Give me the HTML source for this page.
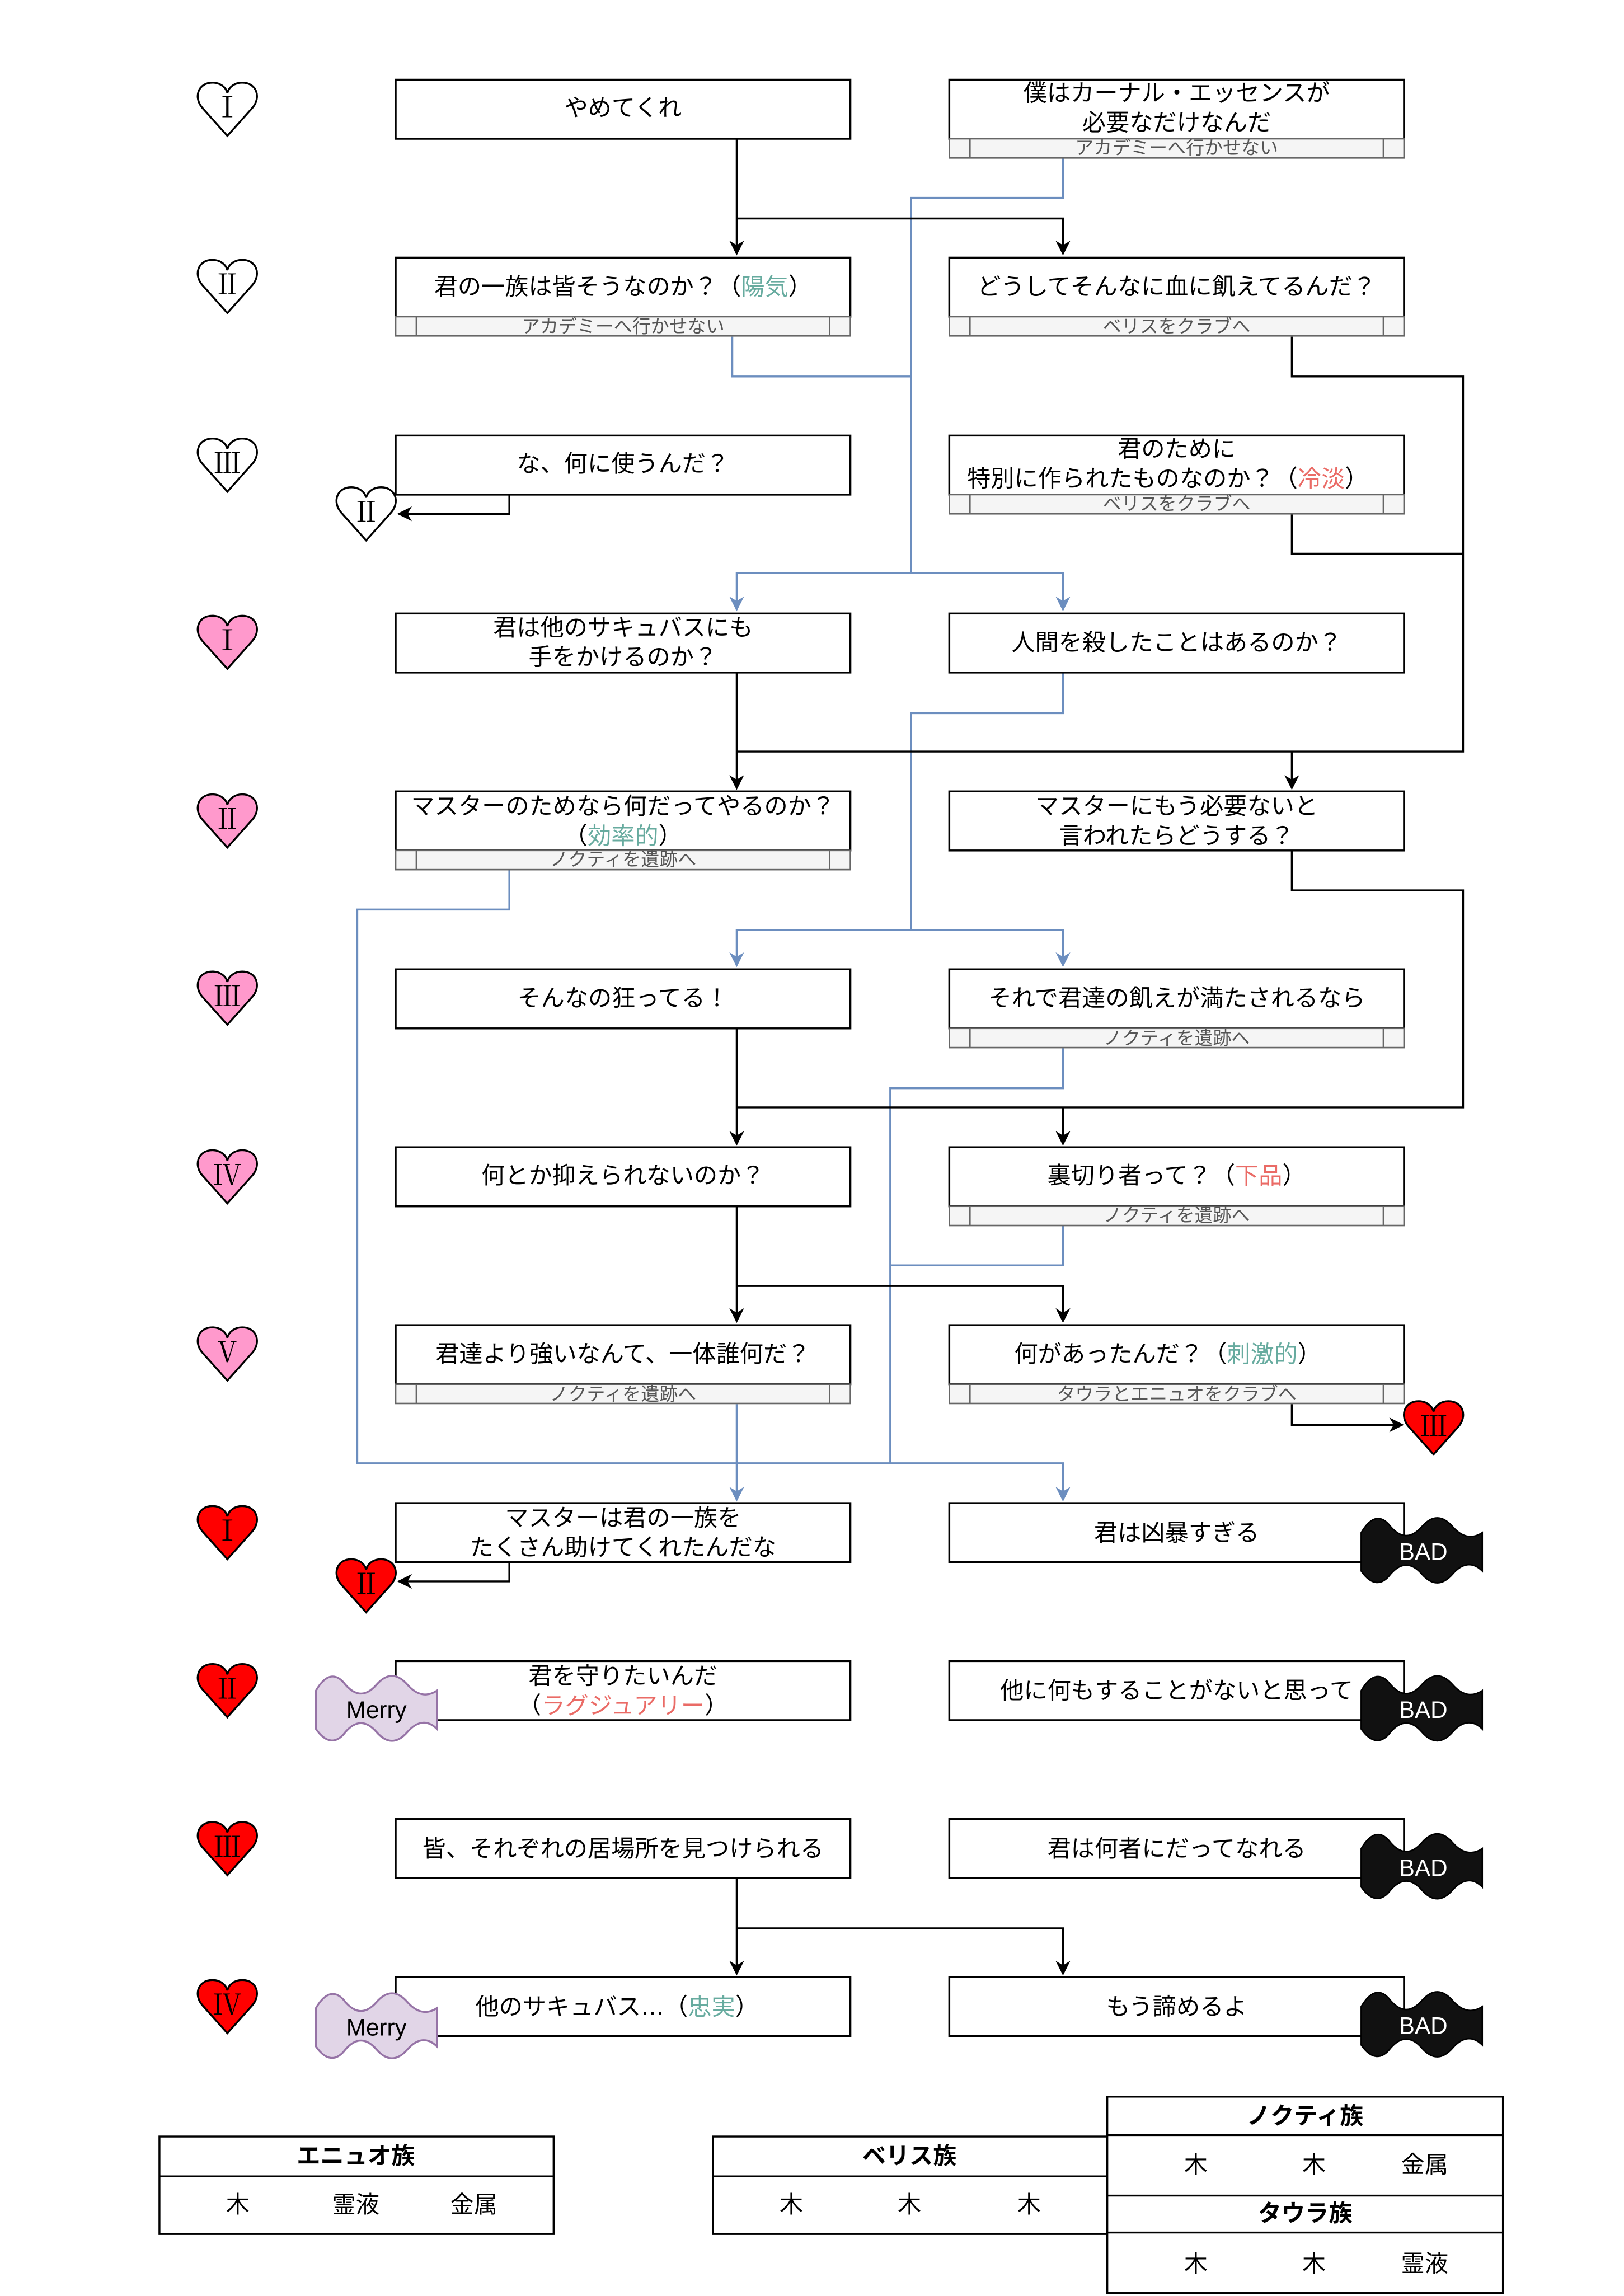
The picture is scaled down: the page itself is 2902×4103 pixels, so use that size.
<!DOCTYPE html>
<html><head><meta charset="utf-8"><style>
html,body{margin:0;padding:0;background:#fff}
svg{display:block}
text{font-family:"Liberation Sans","Noto Sans CJK JP",sans-serif;font-size:16px;fill:#000;text-anchor:middle;dominant-baseline:central}
.bt{font-size:12.5px;fill:#555}
.rn{font-family:"Liberation Serif","Noto Serif CJK SC",serif;font-size:19px}
.g{fill:#67AB9F}.r{fill:#EA6B66}
.bx{fill:#fff;stroke:#000;stroke-width:1.3}
.bar{fill:#f5f5f5;stroke:#666;stroke-width:1}
.k{fill:none;stroke:#000;stroke-width:1.3}
.b{fill:none;stroke:#6C8EBF;stroke-width:1.3}
.hd{font-weight:bold}
</style></head><body>
<svg width="2902" height="4103" viewBox="0 0 1100 1555" preserveAspectRatio="none" xmlns="http://www.w3.org/2000/svg">
<defs>
<marker id="ak" markerWidth="10" markerHeight="10" refX="9" refY="5" orient="auto" markerUnits="userSpaceOnUse"><path d="M0,0 L10,5 L0,10 L3,5 Z" fill="#000"/></marker>
<marker id="ab" markerWidth="10" markerHeight="10" refX="9" refY="5" orient="auto" markerUnits="userSpaceOnUse"><path d="M0,0 L10,5 L0,10 L3,5 Z" fill="#6C8EBF"/></marker>
<path id="h" d="M0,18 L-17,-1 C-23,-8 -20,-18 -10,-18 C-5,-18 -1,-15 0,-11 C1,-15 5,-18 10,-18 C20,-18 23,-8 17,-1 Z"/>
<path id="w" d="M0,8 C7,-4 14,-4 20,4 C27,12 34,12 41,4 C48,-4 55,-4 62,4 C69,12 76,12 82,8 L82,34 C76,28 69,28 62,36 C55,44 48,44 41,36 C34,28 27,28 20,36 C14,44 7,44 0,34 Z"/>
</defs>

<g stroke="#000" stroke-width="1.3">
<use href="#h" x="154" y="74" fill="#fff"/><use href="#h" x="154" y="194" fill="#fff"/><use href="#h" x="154" y="315" fill="#fff"/>
<use href="#h" x="248" y="348" fill="#fff"/>
<use href="#h" x="154" y="435" fill="#FF99CC"/><use href="#h" x="154" y="556" fill="#FF99CC"/><use href="#h" x="154" y="676" fill="#FF99CC"/><use href="#h" x="154" y="797" fill="#FF99CC"/><use href="#h" x="154" y="917" fill="#FF99CC"/>
<use href="#h" x="971" y="967" fill="#FF0000"/>
<use href="#h" x="154" y="1038" fill="#FF0000"/><use href="#h" x="248" y="1074" fill="#FF0000"/><use href="#h" x="154" y="1145" fill="#FF0000"/><use href="#h" x="154" y="1252" fill="#FF0000"/><use href="#h" x="154" y="1359" fill="#FF0000"/>
</g>
<g>
<text class="rn" x="154" y="73">Ⅰ</text><text class="rn" x="154" y="193">Ⅱ</text><text class="rn" x="154" y="314">Ⅲ</text><text class="rn" x="248" y="347">Ⅱ</text>
<text class="rn" x="154" y="434">Ⅰ</text><text class="rn" x="154" y="555">Ⅱ</text><text class="rn" x="154" y="675">Ⅲ</text><text class="rn" x="154" y="796">Ⅳ</text><text class="rn" x="154" y="916">Ⅴ</text>
<text class="rn" x="971" y="966">Ⅲ</text>
<text class="rn" x="154" y="1037">Ⅰ</text><text class="rn" x="248" y="1073">Ⅱ</text><text class="rn" x="154" y="1144">Ⅱ</text><text class="rn" x="154" y="1251">Ⅲ</text><text class="rn" x="154" y="1358">Ⅳ</text>
</g>

<path class="b" d="M720,107 V134 H617 V388 H499 V413" marker-end="url(#ab)"/>
<path class="b" d="M617,388 H720 V413" marker-end="url(#ab)"/>
<path class="b" d="M496,228 V255 H617"/>
<path class="b" d="M720,456 V483 H617 V630 H499 V654" marker-end="url(#ab)"/>
<path class="b" d="M617,630 H720 V654" marker-end="url(#ab)"/>
<path class="b" d="M345,589 V616 H242 V991 H499 V1016" marker-end="url(#ab)"/>
<path class="b" d="M499,991 H720 V1016" marker-end="url(#ab)"/>
<path class="b" d="M720,710 V737 H603 V991"/>
<path class="b" d="M720,830 V857 H603"/>
<path class="b" d="M499,951 V991"/>

<path class="k" d="M499,94 V172" marker-end="url(#ak)"/>
<path class="k" d="M499,148 H720 V172" marker-end="url(#ak)"/>
<path class="k" d="M345,335 V348 H270" marker-end="url(#ak)"/>
<path class="k" d="M875,228 V255 H991 V509 H499"/>
<path class="k" d="M875,348 V375 H991"/>
<path class="k" d="M499,456 V534" marker-end="url(#ak)"/>
<path class="k" d="M875,509 V534" marker-end="url(#ak)"/>
<path class="k" d="M875,576 V603 H991 V750 H499"/>
<path class="k" d="M499,696 V775" marker-end="url(#ak)"/>
<path class="k" d="M720,750 V775" marker-end="url(#ak)"/>
<path class="k" d="M499,817 V895" marker-end="url(#ak)"/>
<path class="k" d="M499,871 H720 V895" marker-end="url(#ak)"/>
<path class="k" d="M875,951 V965 H950" marker-end="url(#ak)"/>
<path class="k" d="M345,1058 V1071 H270" marker-end="url(#ak)"/>
<path class="k" d="M499,1272 V1337" marker-end="url(#ak)"/>
<path class="k" d="M499,1306 H720 V1337" marker-end="url(#ak)"/>

<g>
<rect class="bx" x="268" y="54" width="308" height="40"/><text x="422" y="73">やめてくれ</text>
<rect class="bx" x="643" y="54" width="308" height="40"/><text x="797" y="63">僕はカーナル・エッセンスが</text><text x="797" y="83">必要なだけなんだ</text>
<rect class="bar" x="643" y="94" width="308" height="13"/><path d="M657,94V107M937,94V107" stroke="#666"/><text class="bt" x="797" y="100">アカデミーへ行かせない</text>

<rect class="bx" x="268" y="174.5" width="308" height="40"/><text x="422" y="194">君の一族は皆そうなのか？（<tspan class="g">陽気</tspan>）</text>
<rect class="bar" x="268" y="214.5" width="308" height="13"/><path d="M282,214.5V227.5M562,214.5V227.5" stroke="#666"/><text class="bt" x="422" y="221">アカデミーへ行かせない</text>
<rect class="bx" x="643" y="174.5" width="308" height="40"/><text x="797" y="194">どうしてそんなに血に飢えてるんだ？</text>
<rect class="bar" x="643" y="214.5" width="308" height="13"/><path d="M657,214.5V227.5M937,214.5V227.5" stroke="#666"/><text class="bt" x="797" y="221">ベリスをクラブへ</text>

<rect class="bx" x="268" y="295" width="308" height="40"/><text x="422" y="314">な、何に使うんだ？</text>
<rect class="bx" x="643" y="295" width="308" height="40"/><text x="797" y="304">君のために</text><text x="791" y="324">特別に作られたものなのか？（<tspan class="r">冷淡</tspan>）</text>
<rect class="bar" x="643" y="335" width="308" height="13"/><path d="M657,335V348M937,335V348" stroke="#666"/><text class="bt" x="797" y="341">ベリスをクラブへ</text>

<rect class="bx" x="268" y="415.5" width="308" height="40"/><text x="422" y="425">君は他のサキュバスにも</text><text x="422" y="445">手をかけるのか？</text>
<rect class="bx" x="643" y="415.5" width="308" height="40"/><text x="797" y="435">人間を殺したことはあるのか？</text>

<rect class="bx" x="268" y="536" width="308" height="40"/><text x="422" y="546">マスターのためなら何だってやるのか？</text><text x="422" y="566">（<tspan class="g">効率的</tspan>）</text>
<rect class="bar" x="268" y="576" width="308" height="13"/><path d="M282,576V589M562,576V589" stroke="#666"/><text class="bt" x="422" y="582">ノクティを遺跡へ</text>
<rect class="bx" x="643" y="536" width="308" height="40"/><text x="797" y="546">マスターにもう必要ないと</text><text x="797" y="566">言われたらどうする？</text>

<rect class="bx" x="268" y="656.5" width="308" height="40"/><text x="422" y="676">そんなの狂ってる！</text>
<rect class="bx" x="643" y="656.5" width="308" height="40"/><text x="797" y="676">それで君達の飢えが満たされるなら</text>
<rect class="bar" x="643" y="696.5" width="308" height="13"/><path d="M657,696.5V709.5M937,696.5V709.5" stroke="#666"/><text class="bt" x="797" y="703">ノクティを遺跡へ</text>

<rect class="bx" x="268" y="777" width="308" height="40"/><text x="422" y="796">何とか抑えられないのか？</text>
<rect class="bx" x="643" y="777" width="308" height="40"/><text x="797" y="796">裏切り者って？（<tspan class="r">下品</tspan>）</text>
<rect class="bar" x="643" y="817" width="308" height="13"/><path d="M657,817V830M937,817V830" stroke="#666"/><text class="bt" x="797" y="823">ノクティを遺跡へ</text>

<rect class="bx" x="268" y="897.5" width="308" height="40"/><text x="422" y="917">君達より強いなんて、一体誰何だ？</text>
<rect class="bar" x="268" y="937.5" width="308" height="13"/><path d="M282,937.5V950.5M562,937.5V950.5" stroke="#666"/><text class="bt" x="422" y="944">ノクティを遺跡へ</text>
<rect class="bx" x="643" y="897.5" width="308" height="40"/><text x="791" y="917">何があったんだ？（<tspan class="g">刺激的</tspan>）</text>
<rect class="bar" x="643" y="937.5" width="308" height="13"/><path d="M657,937.5V950.5M937,937.5V950.5" stroke="#666"/><text class="bt" x="797" y="944">タウラとエニュオをクラブへ</text>

<rect class="bx" x="268" y="1018" width="308" height="40"/><text x="422" y="1028">マスターは君の一族を</text><text x="422" y="1048">たくさん助けてくれたんだな</text>
<rect class="bx" x="643" y="1018" width="308" height="40"/><text x="797" y="1038">君は凶暴すぎる</text>

<rect class="bx" x="268" y="1125" width="308" height="40"/><text x="422" y="1135">君を守りたいんだ</text><text x="422" y="1155">（<tspan class="r">ラグジュアリー</tspan>）</text>
<rect class="bx" x="643" y="1125" width="308" height="40"/><text x="797" y="1145">他に何もすることがないと思って</text>

<rect class="bx" x="268" y="1232" width="308" height="40"/><text x="422" y="1252">皆、それぞれの居場所を見つけられる</text>
<rect class="bx" x="643" y="1232" width="308" height="40"/><text x="797" y="1252">君は何者にだってなれる</text>

<rect class="bx" x="268" y="1339" width="308" height="40"/><text x="418" y="1359">他のサキュバス…（<tspan class="g">忠実</tspan>）</text>
<rect class="bx" x="643" y="1339" width="308" height="40"/><text x="797" y="1359">もう諦めるよ</text>
</g>

<g fill="#111" stroke="#000" stroke-width="1">
<use href="#w" x="922" y="1030"/><use href="#w" x="922" y="1137"/><use href="#w" x="922" y="1244"/><use href="#w" x="922" y="1351"/>
</g>
<g>
<text x="964" y="1051" style="fill:#fff">BAD</text><text x="964" y="1158" style="fill:#fff">BAD</text><text x="964" y="1265" style="fill:#fff">BAD</text><text x="964" y="1372" style="fill:#fff">BAD</text>
</g>
<g fill="#E1D5E7" stroke="#9673A6" stroke-width="1.3">
<use href="#w" x="214" y="1137"/><use href="#w" x="214" y="1352"/>
</g>
<text x="255" y="1158">Merry</text><text x="255" y="1373">Merry</text>

<g>
<rect class="bx" x="108" y="1447" width="267" height="66"/><line class="k" x1="108" y1="1474" x2="375" y2="1474"/>
<text class="hd" x="241" y="1460">エニュオ族</text>
<text x="161" y="1493">木</text><text x="241" y="1493">霊液</text><text x="321" y="1493">金属</text>

<rect class="bx" x="483" y="1447" width="267" height="66"/><line class="k" x1="483" y1="1474" x2="750" y2="1474"/>
<text class="hd" x="616" y="1460">ベリス族</text>
<text x="536" y="1493">木</text><text x="616" y="1493">木</text><text x="697" y="1493">木</text>

<rect class="bx" x="750" y="1420" width="268" height="133"/>
<line class="k" x1="750" y1="1446" x2="1018" y2="1446"/><line class="k" x1="750" y1="1487" x2="1018" y2="1487"/><line class="k" x1="750" y1="1512" x2="1018" y2="1512"/>
<text class="hd" x="884" y="1433">ノクティ族</text>
<text x="810" y="1466">木</text><text x="890" y="1466">木</text><text x="965" y="1466">金属</text>
<text class="hd" x="884" y="1499">タウラ族</text>
<text x="810" y="1533">木</text><text x="890" y="1533">木</text><text x="965" y="1533">霊液</text>
</g>
</svg>
</body></html>
